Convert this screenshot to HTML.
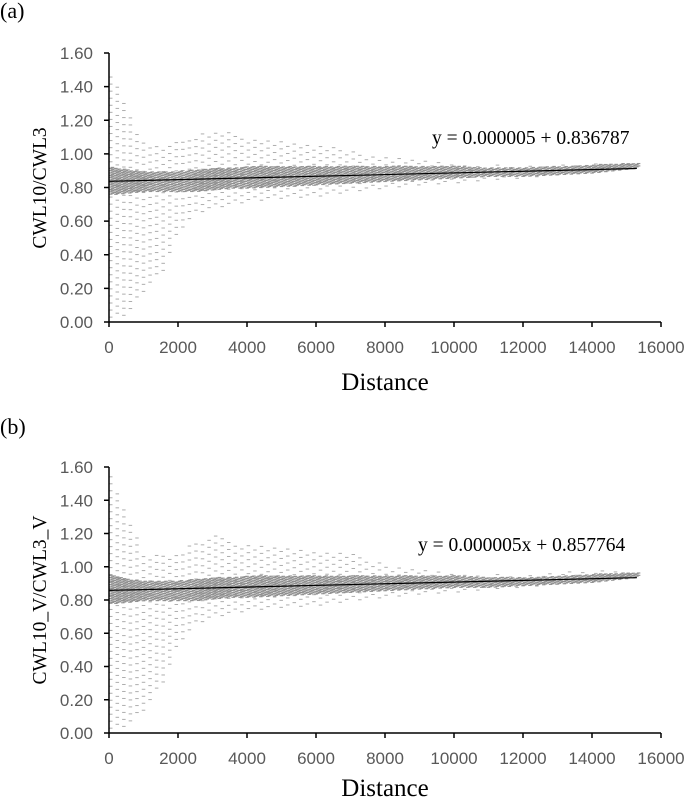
<!DOCTYPE html>
<html><head><meta charset="utf-8"><style>
body{margin:0;background:#fff;}
svg{display:block;}
.tk{font-family:"Liberation Sans",sans-serif;font-size:17px;fill:#595959;}
.tt{font-family:"Liberation Serif",serif;fill:#000;}
</style></head><body>
<svg id="chart" width="685" height="800" viewBox="0 0 685 800" xmlns="http://www.w3.org/2000/svg"></svg>
<script>
// Data
const xTicks=[0,2000,4000,6000,8000,10000,12000,14000,16000];
const yTicks=[0,0.2,0.4,0.6,0.8,1.0,1.2,1.4,1.6];
const binX=[0,500,1000,1500,2000,2500,3000,3500,4000,5000,6000,7000,8000,9000,10000,11000,12000,13000,14000,15300];
const aUpper=[1.50,1.25,1.05,1.05,1.08,1.12,1.15,1.13,1.10,1.08,1.05,1.03,0.98,0.97,0.95,0.94,0.93,0.94,0.95,0.95];
const aLower=[0.02,0.05,0.20,0.30,0.55,0.65,0.68,0.70,0.72,0.74,0.75,0.78,0.80,0.82,0.83,0.85,0.86,0.88,0.90,0.92];
const aCoreU=[0.93,0.91,0.90,0.90,0.90,0.91,0.92,0.92,0.93,0.93,0.93,0.93,0.93,0.93,0.93,0.92,0.92,0.93,0.94,0.95];
const aCoreL=[0.76,0.77,0.78,0.78,0.78,0.78,0.79,0.80,0.80,0.81,0.82,0.83,0.84,0.85,0.86,0.87,0.87,0.88,0.89,0.92];
const bUpper=[1.58,1.30,1.08,1.08,1.10,1.15,1.19,1.17,1.14,1.12,1.10,1.08,1.02,0.99,0.97,0.96,0.95,0.97,0.98,0.97];
const bLower=[0.02,0.05,0.15,0.30,0.55,0.66,0.70,0.72,0.74,0.76,0.77,0.80,0.82,0.84,0.85,0.87,0.88,0.90,0.92,0.94];
const bCoreU=[0.96,0.93,0.92,0.92,0.92,0.93,0.94,0.94,0.95,0.95,0.95,0.95,0.95,0.95,0.95,0.94,0.94,0.95,0.96,0.97];
const bCoreL=[0.78,0.79,0.80,0.80,0.80,0.80,0.81,0.82,0.82,0.83,0.84,0.85,0.86,0.87,0.88,0.88,0.89,0.90,0.91,0.94];
const trendA=[0.000005,0.836787];
const trendB=[0.000005,0.857764];
const NS="http://www.w3.org/2000/svg";
const svg=document.getElementById('chart');
function mk(t,a,p){const e=document.createElementNS(NS,t);for(const k in a)e.setAttribute(k,a[k]);(p||svg).appendChild(e);return e;}
function interp(arr,x){for(let i=0;i<binX.length-1;i++){if(x<=binX[i+1]){const t=(x-binX[i])/(binX[i+1]-binX[i]);return arr[i]+t*(arr[i+1]-arr[i]);}}return arr[arr.length-1];}
function panel(id,top,bot,up,lo,cu,cl,tr,eq,eqX,eqY,ytitle,ytY,distY){
 const x0=109,x1=661;
 const sx=v=>x0+(v/16000)*(x1-x0);
 const sy=v=>bot-(v/1.6)*(bot-top);
 const g=mk('g',{});
 
 
 const pts=mk('g',{fill:'#8a8a8a'},g);
 
 
 let k=0;
 for(let x=0;x<=15300;x+=190){k++;
  const u=interp(up,x),l=interp(lo,x);
  for(let y=l+((k%3)*0.012);y<=u;y+=0.042){
   mk('rect',{x:sx(x),y:sy(y),width:3.5,height:1,opacity:0.7},pts);
  }
 }
 k=0;
 for(let x=0;x<=15300;x+=50){k++;
  const u=interp(cu,x),l=interp(cl,x);
  for(let y=l+((k%4)*0.004);y<=u;y+=0.014){
   mk('rect',{x:sx(x),y:sy(y),width:3.5,height:1.2,opacity:0.9},pts);
  }
 }
 const ax=mk('g',{stroke:'#000','stroke-width':1.5},g);
 
 
 mk('line',{x1:x0,y1:top,x2:x0,y2:bot},ax);
 mk('line',{x1:x0,y1:bot,x2:x1,y2:bot},ax);
 xTicks.forEach(v=>{mk('line',{x1:sx(v),y1:bot,x2:sx(v),y2:bot+5},ax);
  const t=mk('text',{x:sx(v),y:bot+31,'text-anchor':'middle',class:'tk'},g);t.textContent=v;
  });
 yTicks.forEach(v=>{mk('line',{x1:x0-5,y1:sy(v),x2:x0,y2:sy(v)},ax);
  const t=mk('text',{x:x0-16,y:sy(v)+6,'text-anchor':'end',class:'tk'},g);t.textContent=v.toFixed(2);
  });
 const tl=mk('line',{x1:sx(0),y1:sy(tr[1]),x2:sx(15300),y2:sy(tr[0]*15300+tr[1]),stroke:'#000','stroke-width':1.2},g);
 
 
 const e=mk('text',{x:eqX,y:eqY,class:'tt','font-size':'19.5px'},g);e.textContent=eq;
 
 const xt=mk('text',{x:385,y:distY,'text-anchor':'middle',class:'tt','font-size':'25px'},g);xt.textContent='Distance';
 
 const yt=mk('text',{x:0,y:0,'text-anchor':'middle',class:'tt','font-size':'19.5px',transform:`translate(46,${ytY}) rotate(-90)`},g);yt.textContent=ytitle;
 
}
panel('a',53,322,aUpper,aLower,aCoreU,aCoreL,trendA,'y = 0.000005 + 0.836787',432,144,'CWL10/CWL3',188,390);
panel('b',467,733,bUpper,bLower,bCoreU,bCoreL,trendB,'y = 0.000005x + 0.857764',418,551,'CWL10_V/CWL3_V',600,796);
const la=mk('text',{x:0,y:18,class:'tt','font-size':'22px'});la.textContent='(a)';

const lb=mk('text',{x:0,y:434,class:'tt','font-size':'22px'});lb.textContent='(b)';

</script>
</body></html>
